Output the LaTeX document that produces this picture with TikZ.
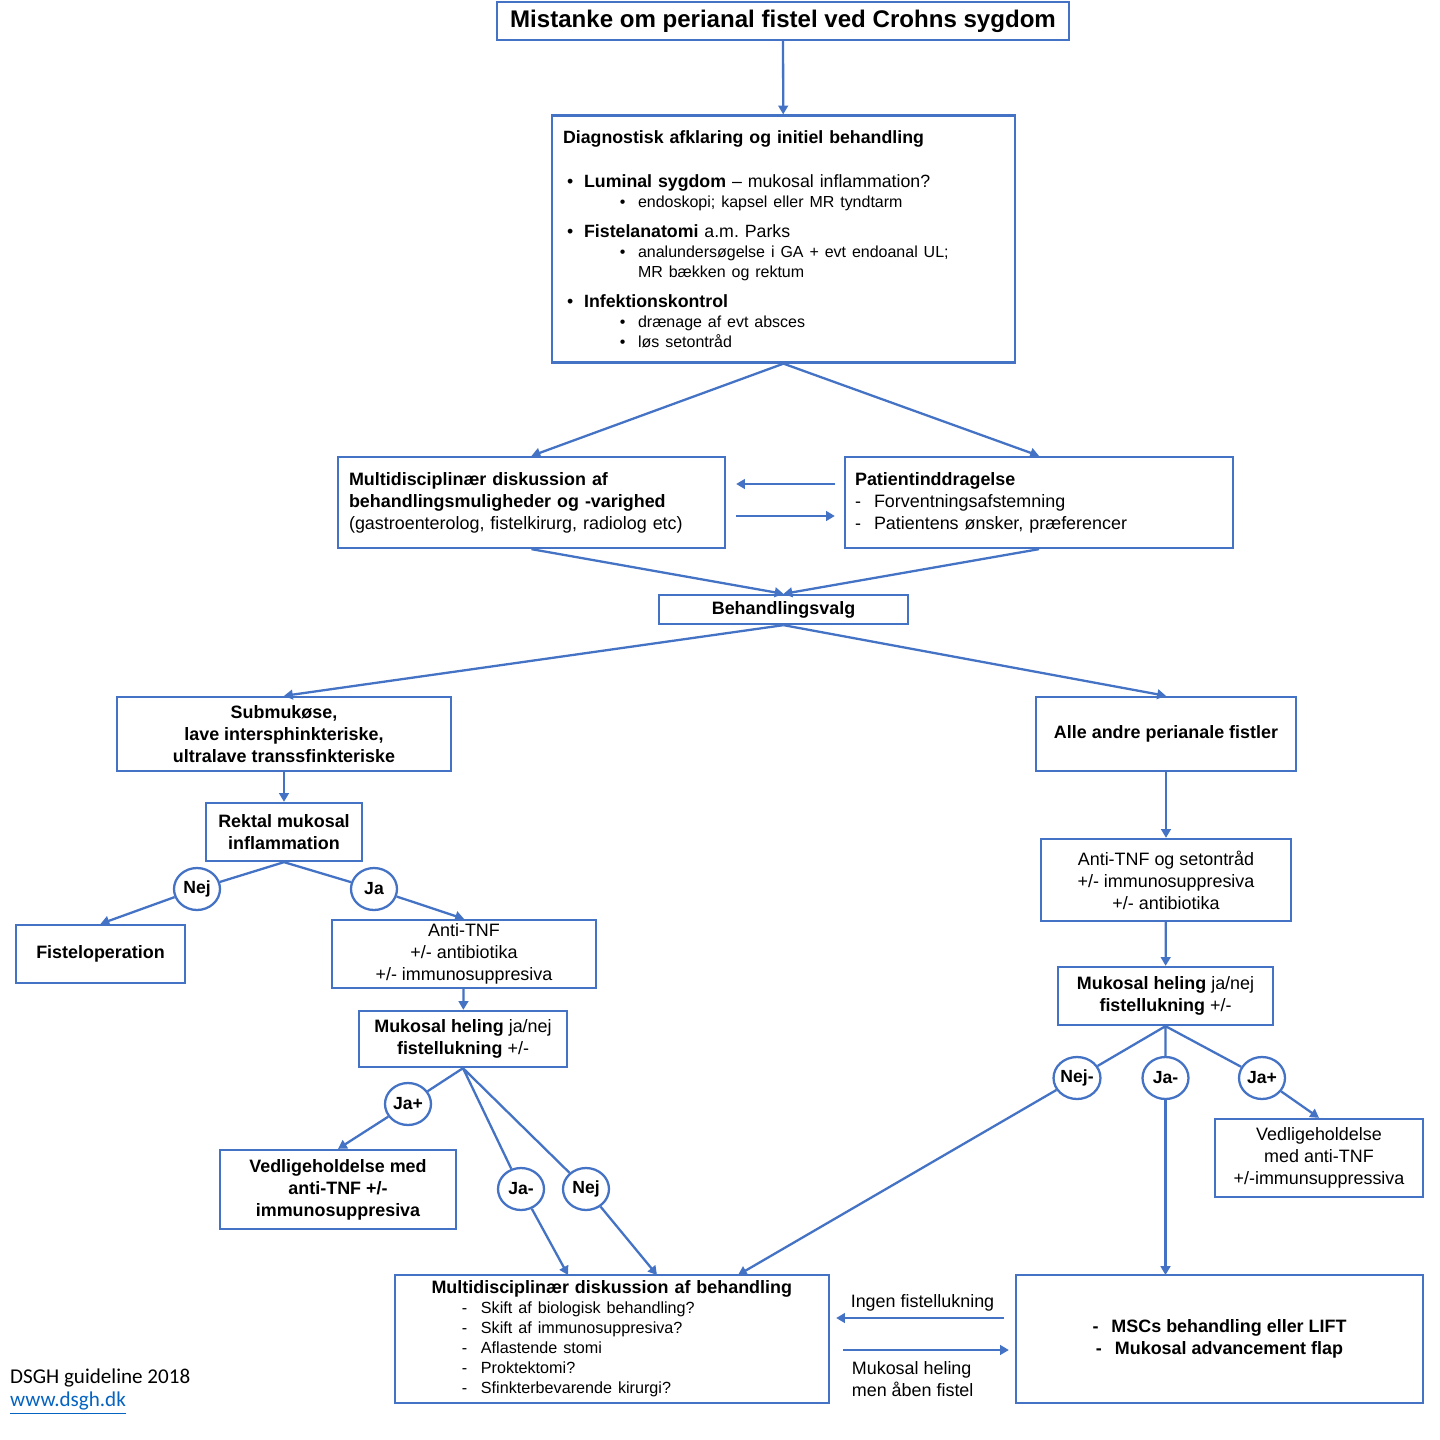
\documentclass[tikz,border=0pt]{standalone}
\usepackage{fontspec}
\setmainfont{Liberation Sans}
\newfontfamily\calib{Carlito}
\usetikzlibrary{arrows.meta,shapes.geometric}
\frenchspacing

\definecolor{dsblue}{RGB}{68,114,196}
\definecolor{dslink}{RGB}{5,99,193}

\newcommand{\mainsz}{\fontsize{10.1}{11.4}\selectfont}
\newcommand{\subsz}{\fontsize{9.1}{11.4}\selectfont}
\newcommand{\bx}[3][]{\node[box={#2}{#3},#1]}
\newcommand{\yn}{\node[answer]}
\newcommand{\itm}{\makebox[10.8pt][l]{-}}

\tikzset{
    box/.style 2 args={draw=dsblue, line width=1.3pt, fill=white,
        minimum width=#1*0.02cm, minimum height=#2*0.02cm,
        inner sep=0pt, align=center, font=\fontsize{10.2}{12.5}\selectfont},
    boldbox/.style={font=\bfseries\fontsize{10.2}{12.5}\selectfont},
    answer/.style={ellipse, draw=dsblue, line width=1.3pt, fill=white,
        minimum width=0.92cm, minimum height=0.84cm, inner sep=0pt,
        font=\bfseries\fontsize{10}{11}\selectfont},
    link/.style={draw=dsblue, line width=1.3pt},
    flow/.style={link, -{Triangle[length=5pt,width=5.5pt]}}
}

\begin{document}
\begin{tikzpicture}[x=0.02cm, y=-0.02cm]
        \path[use as bounding box, fill=white] (0,0) rectangle (1440,1440);

        % top part
        \bx[font=\bfseries\fontsize{13.7}{16}\selectfont]{572}{38} (title) at (783,21)
            {Mistanke om perianal fistel ved Crohns sygdom};
        \bx[align=left, text width=8.82cm, font=\mainsz]{463}{247} (diag) at (783.5,239)
            {\textbf{Diagnostisk afklaring og initiel behandling}\\[13.7pt]
             \hspace*{2.3pt}\makebox[9.7pt][l]{\textbullet}\textbf{Luminal sygdom} – mukosal inflammation?\\
             \subsz\hspace*{32.4pt}\makebox[10.3pt][l]{\textbullet}endoskopi; kapsel eller MR tyndtarm\\[5.7pt]
             \mainsz\hspace*{2.3pt}\makebox[9.7pt][l]{\textbullet}\textbf{Fistelanatomi} a.m. Parks\\
             \subsz\hspace*{32.4pt}\makebox[10.3pt][l]{\textbullet}analundersøgelse i GA + evt endoanal UL;\\
             \hspace*{42.7pt}MR bækken og rektum\\[5.7pt]
             \mainsz\hspace*{2.3pt}\makebox[9.7pt][l]{\textbullet}\textbf{Infektionskontrol}\\
             \subsz\hspace*{32.4pt}\makebox[10.3pt][l]{\textbullet}drænage af evt absces\\
             \hspace*{32.4pt}\makebox[10.3pt][l]{\textbullet}løs setontråd};
        \bx[align=left, text width=7.3cm]{387}{91} (multi) at (531.5,502.5)
            {\textbf{Multidisciplinær diskussion af}\\
             \textbf{behandlingsmuligheder og -varighed}\\
             (gastroenterolog, fistelkirurg, radiolog etc)};
        \bx[align=left, text width=7.36cm]{388}{91} (patient) at (1039,502.5)
            {\textbf{Patientinddragelse}\\
             \itm Forventningsafstemning\\
             \itm Patientens ønsker, præferencer};
        \bx[boldbox]{249}{29} (valg) at (783.5,609.5) {Behandlingsvalg};

        % left branch
        \bx[boldbox]{334}{74} (submuk) at (284,734)
            {Submukøse,\\lave intersphinkteriske,\\ultralave transsfinkteriske};
        \bx[boldbox]{156}{58} (rektal) at (284,832) {Rektal mukosal\\inflammation};
        \yn (nejone) at (197,889) {Nej};
        \yn (jaone) at (374,889) {Ja};
        \bx[boldbox]{169}{58} (fist) at (100.5,954) {Fisteloperation};
        \bx{264}{68} (antil) at (464,954)
            {Anti-TNF\\+/- antibiotika\\+/- immunosuppresiva};
        \bx{208}{56} (mukl) at (463,1039)
            {\textbf{Mukosal heling} ja/nej\\\textbf{fistellukning} +/-};
        \yn (japl) at (408,1104) {Ja+};
        \yn (jaml) at (521,1189) {Ja-};
        \yn (nejl) at (586,1189) {Nej};
        \bx[boldbox]{236}{79} (vedl) at (338,1189.5)
            {Vedligeholdelse med\\anti-TNF +/-\\immunosuppresiva};

        % right branch
        \bx[boldbox]{260}{74} (alle) at (1166,734) {Alle andre perianale fistler};
        \bx{250}{82} (antir) at (1166,880)
            {Anti-TNF og setontråd\\+/- immunosuppresiva\\+/- antibiotika};
        \bx{215}{58} (mukr) at (1165.5,996)
            {\textbf{Mukosal heling} ja/nej\\\textbf{fistellukning} +/-};
        \yn (nejr) at (1077,1078) {Nej-};
        \yn (jamr) at (1165.5,1078) {Ja-};
        \yn (japr) at (1262,1078) {Ja+};
        \bx{208}{78} (vedr) at (1319,1158)
            {Vedligeholdelse\\med anti-TNF\\+/-immunsuppressiva};

        % bottom
        \bx[align=left, text width=7.5cm, font=\fontsize{10.2}{11.4}\selectfont]{434}{128} (mdb) at (612,1339)
            {\hspace*{4pt}\textbf{Multidisciplinær diskussion af behandling}\\
             \fontsize{9.2}{11.4}\selectfont
             \hspace*{21.3pt}\itm Skift af biologisk behandling?\\
             \hspace*{21.3pt}\itm Skift af immunosuppresiva?\\
             \hspace*{21.3pt}\itm Aflastende stomi\\
             \hspace*{21.3pt}\itm Proktektomi?\\
             \hspace*{21.3pt}\itm Sfinkterbevarende kirurgi?};
        \bx[boldbox]{407}{128} (msc) at (1219.5,1339)
            {\itm MSCs behandling eller LIFT\\\itm Mukosal advancement flap};
        \coordinate (mdja) at (568,1275);
        \coordinate (mdnej) at (657,1275);
        \coordinate (mdnejr) at (738,1275);
        \coordinate (mscja) at (1165.5,1275);

        \node[anchor=west, font=\calib\fontsize{12}{14}\selectfont] (dsgh) at (4,1378)
            {DSGH guideline 2018};
        \node[anchor=west, text=dslink, font=\calib\fontsize{12}{14}\selectfont] (web) at (4,1403)
            {\underline{www.dsgh.dk}};

        \foreach \from/\to in {title/diag, diag.south/multi.north, diag.south/patient.north,
                multi.south/valg.north, patient.south/valg.north,
                valg.south/submuk.north, valg.south/alle.north,
                submuk/rektal, nejone/fist.north, jaone/antil.north, antil/mukl,
                japl/vedl.north, jaml/mdja, nejl/mdnej,
                alle/antir, antir/mukr, nejr/mdnejr, jamr/mscja, japr/vedr.north}
            \draw[flow] (\from) -- (\to);

        \draw[flow, shorten <=0.18cm, shorten >=0.2cm]
            ([yshift=0.37cm]patient.west) -- ([yshift=0.37cm]multi.east);
        \draw[flow, shorten <=0.2cm, shorten >=0.18cm]
            ([yshift=-0.27cm]multi.east) -- ([yshift=-0.27cm]patient.west);

        \draw[link]
            (rektal.south) -- (nejone)
            (rektal.south) -- (jaone)
            (mukl.south) -- (japl)
            (mukl.south) -- (jaml)
            (mukl.south) -- (nejl)
            (mukr.south) -- (nejr)
            (mukr.south) -- (jamr)
            (mukr.south) -- (japr)
            ;

        \draw[flow, shorten <=0.22cm, shorten >=0.12cm]
            ([yshift=0.42cm]msc.west) -- ([yshift=0.42cm]mdb.east)
            node[midway, above, font=\fontsize{10.2}{12}\selectfont] {Ingen fistellukning};
        \draw[flow, shorten <=0.26cm, shorten >=0.12cm]
            ([yshift=-0.22cm]mdb.east) -- ([yshift=-0.22cm]msc.west)
            node[pos=0.08, anchor=north west, yshift=-0.1cm, align=left,
                 font=\fontsize{10.2}{12}\selectfont] {Mukosal heling\\men åben fistel};
\end{tikzpicture}
\end{document}
